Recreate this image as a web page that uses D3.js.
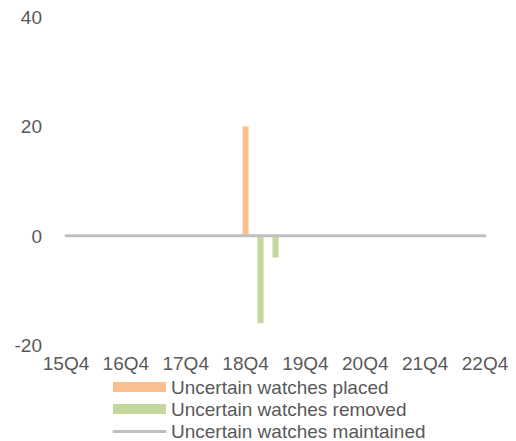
<!DOCTYPE html>
<html><head><meta charset="utf-8">
<script src="https://cdn.jsdelivr.net/npm/d3@7"></script>
<style>body{margin:0;background:#fff}svg{display:block}text{font-family:"Liberation Sans",Arial,sans-serif;fill:#595959}</style>
</head><body>
<script>
const categories = ["15Q4","16Q1","16Q2","16Q3","16Q4","17Q1","17Q2","17Q3","17Q4","18Q1","18Q2","18Q3","18Q4","19Q1","19Q2","19Q3","19Q4","20Q1","20Q2","20Q3","20Q4","21Q1","21Q2","21Q3","21Q4","22Q1","22Q2","22Q3","22Q4"];
const placed     = [0,0,0,0,0,0,0,0,0,0,0,0,20,0,0,0,0,0,0,0,0,0,0,0,0,0,0,0,0];
const removed    = [0,0,0,0,0,0,0,0,0,0,0,0,0,-16,-4,0,0,0,0,0,0,0,0,0,0,0,0,0,0];
const maintained = [0,0,0,0,0,0,0,0,0,0,0,0,0,0,0,0,0,0,0,0,0,0,0,0,0,0,0,0,0];
const xTickLabels = ["15Q4","16Q4","17Q4","18Q4","19Q4","20Q4","21Q4","22Q4"];
const yTicks = [-20,0,20,40];
const seriesNames = ["Uncertain watches placed","Uncertain watches removed","Uncertain watches maintained"];
const colors = ["#FAC090","#C3D69B","#BFBFBF"];

const W=516,H=441;
const svg=d3.select("body").append("svg").attr("width",W).attr("height",H);
const x=d3.scalePoint().domain(categories).range([66,485]);
const y=d3.scaleLinear().domain([-20,40]).range([345,17]);
const fs="19px";

// y labels
svg.append("g").selectAll("text").data(yTicks).join("text")
  .attr("x",42).attr("y",d=>y(d)).attr("dy","0.36em").attr("text-anchor","end")
  .style("font-size",fs).text(d=>d);
// x labels
svg.append("g").selectAll("text").data(xTickLabels).join("text")
  .attr("x",d=>x(d)).attr("y",363).attr("dy","0.36em").attr("text-anchor","middle")
  .style("font-size",fs).text(d=>d);

const bw=6;
function bars(vals,color){
  svg.append("g").selectAll("rect").data(categories.map((c,i)=>({c,v:vals[i]})).filter(d=>d.v!==0)).join("rect")
    .attr("x",d=>x(d.c)-bw/2).attr("width",bw)
    .attr("y",d=>Math.min(y(d.v),y(0))).attr("height",d=>Math.abs(y(d.v)-y(0)))
    .attr("fill",color);
}
bars(placed,colors[0]);
bars(removed,colors[1]);

const line=d3.line().x((d,i)=>x(categories[i])).y(d=>y(d));
svg.append("path").datum(maintained).attr("d",line).attr("fill","none")
  .attr("stroke",colors[2]).attr("stroke-width",3).attr("stroke-linecap","round");

// legend
const lg=svg.append("g");
const rows=[387,409,431.5];
seriesNames.forEach((n,i)=>{
  if(i<2){
    lg.append("rect").attr("x",113).attr("y",rows[i]-5).attr("width",53).attr("height",10).attr("fill",colors[i]);
  } else {
    lg.append("line").attr("x1",114).attr("x2",165).attr("y1",rows[i]).attr("y2",rows[i])
      .attr("stroke",colors[i]).attr("stroke-width",3).attr("stroke-linecap","round");
  }
  lg.append("text").attr("x",171).attr("y",rows[i]).attr("dy","0.36em").style("font-size",fs).text(n);
});
</script>
</body></html>
